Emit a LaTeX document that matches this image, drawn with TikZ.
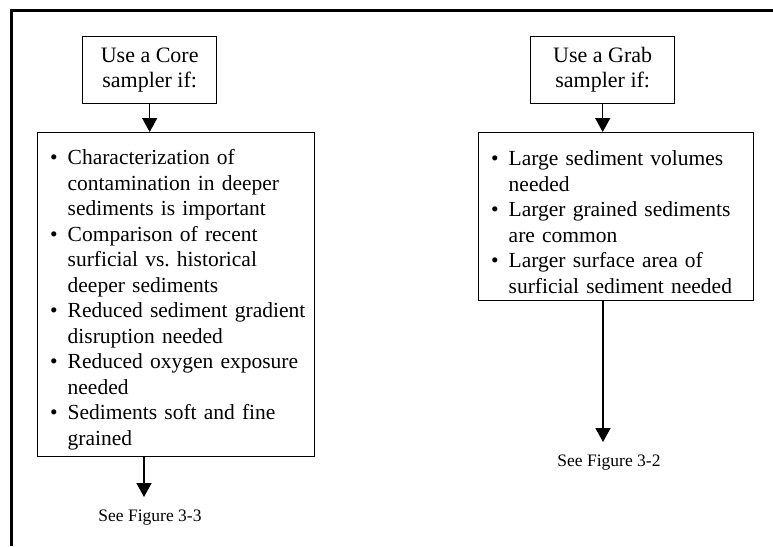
\documentclass[tikz,border=0pt]{standalone}
\usepackage{fontspec}
\setmainfont{Liberation Serif}
\usetikzlibrary{arrows.meta}
\frenchspacing
\newcommand{\itm}{\par\noindent\llap{\textbullet\hspace{10pt}}}
\tikzset{
  x=1pt, y=-1pt,
  topbox/.style={draw, line width=1.4pt, anchor=north west, inner sep=0pt, align=center,
    font=\fontsize{22}{25}\selectfont},
  listbox/.style={draw, line width=1.4pt, anchor=north west, inner xsep=0pt, inner ysep=0pt,
    font=\fontsize{21.5}{25.5}\selectfont},
  flow/.style={line width=1.4pt, -{Triangle[width=15pt,length=14pt]}},
  seelabel/.style={font=\fontsize{17.5}{20}\selectfont, inner sep=0pt},
  frame/.style={line width=3pt}
}
\begin{document}
\begin{tikzpicture}
\useasboundingbox (0,0) rectangle (773,546);
\draw[frame] (11,546) -- (11,10) -- (773,10);

\node[topbox, minimum width=134pt, minimum height=67pt] (core) at (82,36) {Use a Core\\sampler if:};
\node[topbox, minimum width=144pt, minimum height=67pt] (grab) at (530,36) {Use a Grab\\sampler if:};

\node[listbox, minimum width=277pt, minimum height=324pt, text width=277pt] (corelist) at (37,132)
{\frenchspacing\leftskip=30pt\rightskip=0pt plus 1fil\parfillskip=0pt plus 1fil
\itm Characterization of\\contamination in deeper\\sediments is important
\itm Comparison of recent\\surficial vs. historical\\deeper sediments
\itm Reduced sediment gradient\\disruption needed
\itm Reduced oxygen exposure\\needed
\itm Sediments soft and fine\\grained\par};

\node[listbox, minimum width=275pt, minimum height=168pt, text width=275pt] (grablist) at (478,132)
{\frenchspacing\leftskip=30pt\rightskip=0pt plus 1fil\parfillskip=0pt plus 1fil
\itm Large sediment volumes\\needed
\itm Larger grained sediments\\are common
\itm Larger surface area of\\surficial sediment needed\par};

\coordinate (a3) at (144,497);
\coordinate (a2) at (603,442);
\node[seelabel] (see3) at (150,518) {See Figure 3-3};
\node[seelabel] (see2) at (609,463) {See Figure 3-2};

\draw[flow] (core.south) -- (core.south |- corelist.north);
\draw[flow] (grab.south) -- (grab.south |- grablist.north);
\draw[flow] (corelist.south -| a3) -- (a3);
\draw[flow] (grablist.south -| a2) -- (a2);
\end{tikzpicture}
\end{document}
